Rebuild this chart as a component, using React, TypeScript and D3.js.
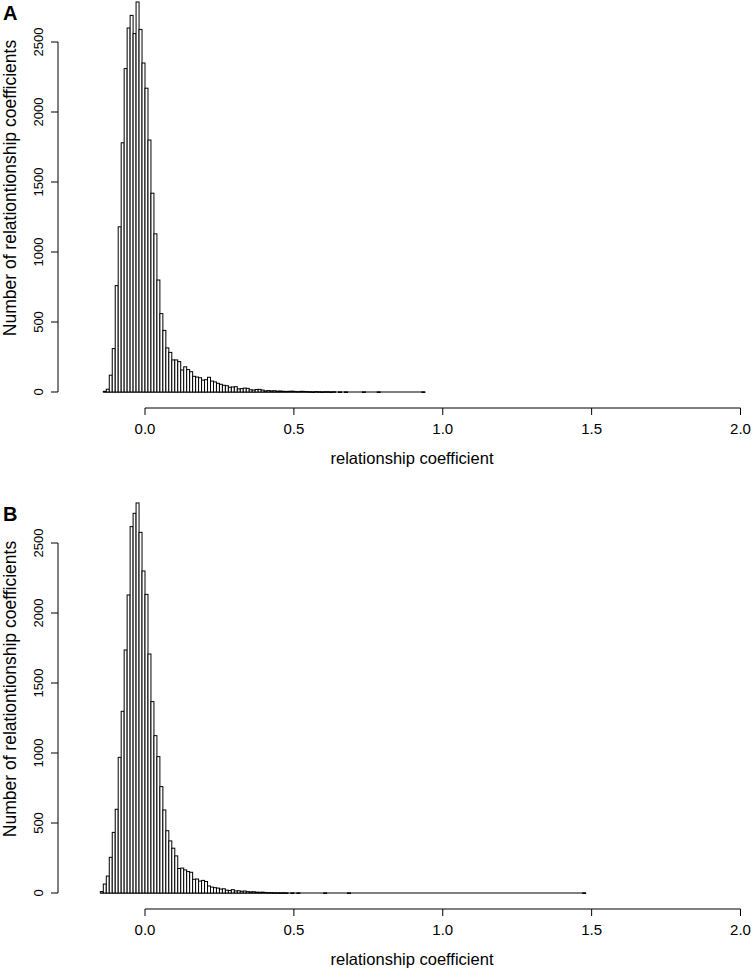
import React from "react";
import * as d3 from "d3";

// Histogram counts, bin width 0.01
const binWidth = 0.01;
const startA = -0.14;
const countsA: number[] = [
  5, 20, 120, 310, 760, 1180, 1780, 2310, 2600, 2690,
  2560, 2786, 2590, 2350, 2170, 1800, 1420, 1130, 800, 560,
  440, 315, 283, 229, 229, 217, 157, 180, 160, 145,
  112, 107, 102, 85, 88, 105, 78, 72, 62, 55,
  48, 45, 34, 36, 38, 22, 24, 28, 26, 16,
  14, 18, 19, 14, 8, 10, 8, 9, 6, 7,
  5, 4, 5, 6, 4, 3, 5, 4, 3, 2,
  1, 3, 2, 1, 2, 2, 1, 2, 0, 1,
  0, 1, 0, 0, 0, 0, 0, 1, 0, 0,
  0, 0, 1, 0, 0, 0, 0, 0, 0, 0,
  0, 0, 0, 0, 0, 0, 0, 1,
];
const startB = -0.15;
const countsB: number[] = [
  10, 64, 121, 255, 433, 598, 969, 1298, 1736, 2129,
  2617, 2712, 2786, 2576, 2300, 2133, 1707, 1367, 1124, 974,
  760, 593, 445, 372, 320, 265, 175, 178, 165, 153,
  148, 98, 100, 85, 90, 82, 50, 42, 38, 35,
  28, 30, 20, 18, 24, 15, 16, 12, 14, 10,
  8, 9, 6, 5, 6, 4, 3, 3, 2, 2,
  1, 2, 1, 0, 1, 0, 1, 0, 0, 0,
  0, 0, 0, 0, 0, 1, 0, 0, 0, 0,
  0, 0, 0, 1, 0, 0, 0, 0, 0, 0,
  0, 0, 0, 0, 0, 0, 0, 0, 0, 0,
  0, 0, 0, 0, 0, 0, 0, 0, 0, 0,
  0, 0, 0, 0, 0, 0, 0, 0, 0, 0,
  0, 0, 0, 0, 0, 0, 0, 0, 0, 0,
  0, 0, 0, 0, 0, 0, 0, 0, 0, 0,
  0, 0, 0, 0, 0, 0, 0, 0, 0, 0,
  0, 0, 0, 0, 0, 0, 0, 0, 0, 0,
  0, 0, 1,
];
const xTicks = [0, 0.5, 1.0, 1.5, 2.0];
const yTicks = [0, 500, 1000, 1500, 2000, 2500];
const panelLabels = ["A", "B"];
const xTitle = "relationship coefficient";
const yTitle = "Number of relationtionship coefficients";

const W = 754;
const H = 969;
const FONT = "'Liberation Sans', Arial, Helvetica, sans-serif";

function Panel({ counts, start, label, dy }: { counts: number[]; start: number; label: string; dy: number }) {
  const x = d3.scaleLinear().domain([0, 2]).range([145, 740.5]);
  const y = d3.scaleLinear().domain([0, 2500]).range([392, 42]);
  const axisX = 58;
  const axisY = 408;
  const bins = counts.map((c, i) => ({ x0: start + i * binWidth, x1: start + (i + 1) * binWidth, c }));
  const end = start + counts.length * binWidth;
  return (
    <g transform={`translate(0,${dy})`}>
      <text x={3} y={20} fontFamily={FONT} fontWeight="bold" fontSize={20}>{label}</text>
      <line x1={x(start)} x2={x(end)} y1={y(0)} y2={y(0)} stroke="black" strokeWidth={1} />
      {bins.filter((b) => b.c > 0).map((b, i) => (
        <rect key={i} x={x(b.x0)} y={y(b.c)} width={x(b.x1) - x(b.x0)} height={Math.max(0.6, y(0) - y(b.c))}
          fill="white" stroke="black" strokeWidth={1} />
      ))}
      {/* y axis */}
      <line x1={axisX} x2={axisX} y1={y(0)} y2={y(2500)} stroke="black" />
      {yTicks.map((t) => (
        <g key={t}>
          <line x1={axisX - 7} x2={axisX} y1={y(t)} y2={y(t)} stroke="black" />
          <text transform={`translate(${axisX - 15},${y(t)}) rotate(-90)`} textAnchor="middle"
            fontFamily={FONT} fontSize={13}>{String(t)}</text>
        </g>
      ))}
      {/* x axis */}
      <line x1={x(0)} x2={x(2)} y1={axisY} y2={axisY} stroke="black" />
      {xTicks.map((t) => (
        <g key={t}>
          <line x1={x(t)} x2={x(t)} y1={axisY} y2={axisY + 7} stroke="black" />
          <text x={x(t)} y={axisY + 26} textAnchor="middle" fontFamily={FONT} fontSize={15}>{t.toFixed(1)}</text>
        </g>
      ))}
      <text x={412} y={464} textAnchor="middle" fontFamily={FONT} fontSize={16.5}>{xTitle}</text>
      <text transform={`translate(16,188) rotate(-90)`} textAnchor="middle" fontFamily={FONT} fontSize={17.5}>{yTitle}</text>
    </g>
  );
}

export default function App() {
  return (
    <svg width={W} height={H} style={{ position: "absolute", left: 0, top: 0, background: "white" }}>
      <rect width={W} height={H} fill="white" />
      <Panel counts={countsA} start={startA} label={panelLabels[0]} dy={0} />
      <Panel counts={countsB} start={startB} label={panelLabels[1]} dy={501} />
    </svg>
  );
}
